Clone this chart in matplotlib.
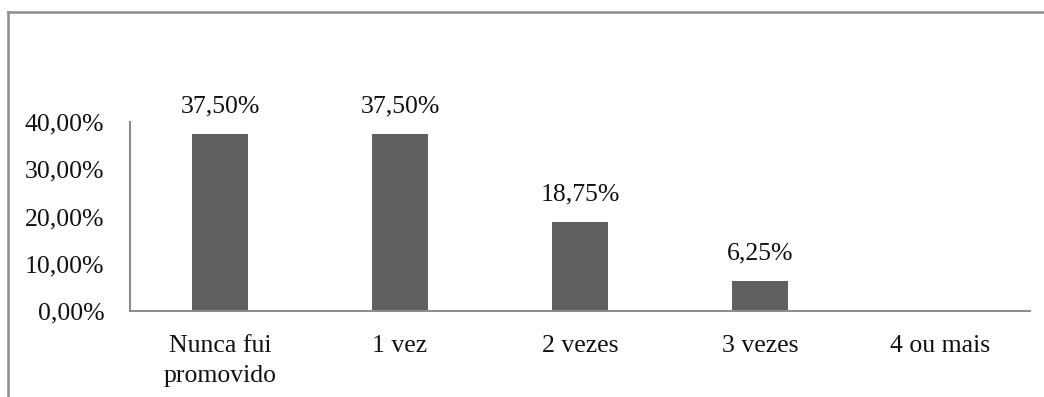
import matplotlib.pyplot as plt
from matplotlib.lines import Line2D
import numpy as np

categories = ["Nunca fui\npromovido", "1 vez", "2 vezes", "3 vezes", "4 ou mais"]
values = [37.50, 37.50, 18.75, 6.25, 0.0]
yticks = [0, 10, 20, 30, 40]

plt.rcParams['font.family'] = ['Liberation Serif', 'DejaVu Serif']

fig = plt.figure(figsize=(10.44, 3.97), dpi=100)
ax = fig.add_axes([130/1044, 1 - 311/397, 900/1044, 189/397])

x = np.arange(len(categories))
bars = ax.bar(x, values, width=0.31, color="#606060")

for xi, v in zip(x, values):
    if v > 0:
        ax.annotate(f"{v:.2f}%".replace(".", ","), (xi, v), xytext=(0, 12),
                    textcoords="offset points", ha="center", va="bottom",
                    fontsize=18.5, color="#111111")

ax.set_xlim(-0.5, len(categories) - 0.5)
ax.set_ylim(0, 40)
ax.set_yticks(yticks)
ax.set_yticklabels([f"{t:.2f}%".replace(".", ",") for t in yticks])
ax.set_xticks(x)
ax.set_xticklabels(categories, linespacing=1.5)
ax.tick_params(axis="both", length=0, labelsize=18.5, labelcolor="#111111")
ax.tick_params(axis="x", pad=17)
ax.tick_params(axis="y", pad=18.5)

for s in ["top", "right"]:
    ax.spines[s].set_visible(False)
for s in ["left", "bottom"]:
    ax.spines[s].set_color("#8c8c8c")
    ax.spines[s].set_linewidth(1.5)

# outer chart border (top and left visible)
fig.add_artist(Line2D([8/1044, 1], [1 - 12/397, 1 - 12/397], color="#8c8c8c", lw=1.8))
fig.add_artist(Line2D([8/1044, 8/1044], [0, 1 - 12/397], color="#8c8c8c", lw=1.8))

fig.savefig("out.png", dpi=100)
